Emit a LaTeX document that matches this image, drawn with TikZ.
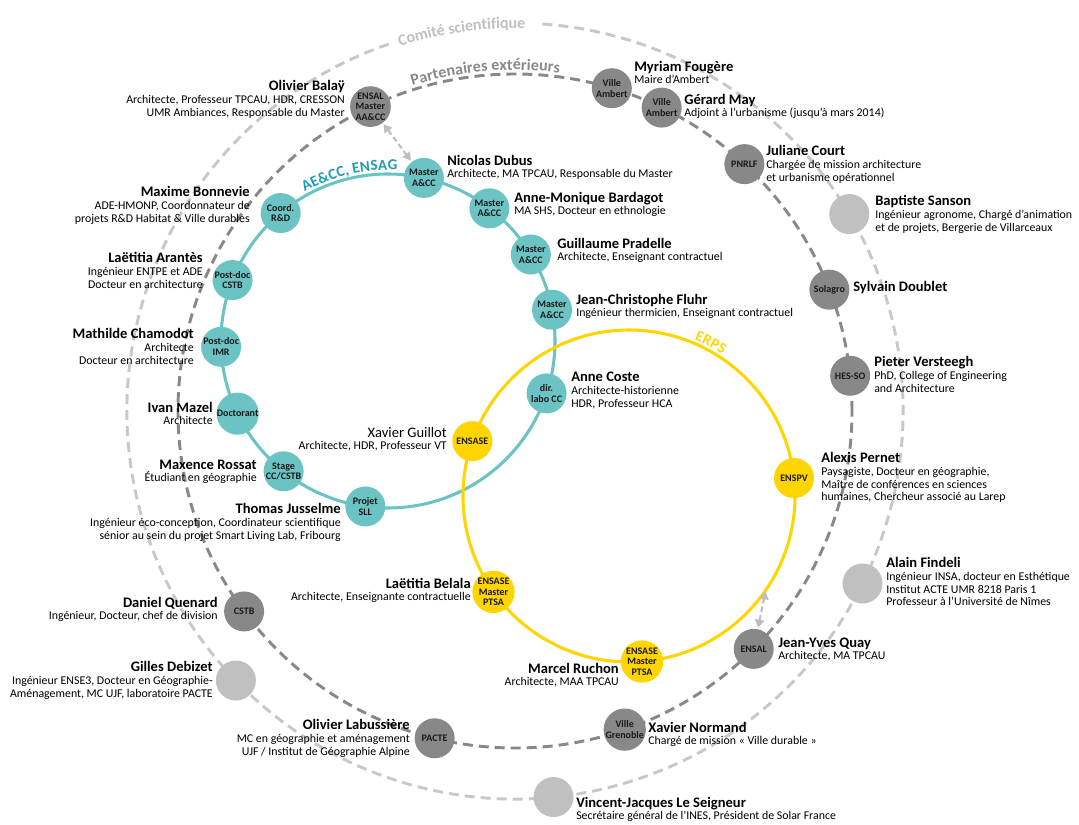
\documentclass[tikz,border=0pt]{standalone}
\usepackage{fontspec}
\setmainfont{Carlito}
\usetikzlibrary{arrows.meta,decorations.text}

\newcommand{\pnom}[1]{{\fontsize{10.9}{12}\selectfont\bfseries #1}}

\begin{document}
\begin{tikzpicture}[x=0.75pt, y=0.75pt,
    membre/.style={circle, minimum size=30pt, inner sep=0pt, align=center,
      font=\fontsize{7.5}{8}\selectfont\bfseries, text=black!90},
    aecc/.style={membre, fill=aeccteal},
    erps/.style={membre, fill=erpsjaune},
    parten/.style={membre, fill=grisfonce},
    comite/.style={membre, fill=grisclair},
    adroite/.style={anchor=base west, align=left, inner sep=0pt,
      font=\fontsize{8.9}{9.5}\selectfont},
    agauche/.style={anchor=base east, align=right, inner sep=0pt,
      font=\fontsize{8.9}{9.5}\selectfont},
    anneau/.style={line width=2.2pt, dash pattern=on 7.5pt off 4.5pt},
    fleche/.style={grisfleche, line width=1.6pt, dash pattern=on 4pt off 2.5pt,
      {Triangle[length=6pt,width=7pt]}-{Triangle[length=6pt,width=7pt]},
      shorten <=1pt, shorten >=1pt}]

    % Couleurs
    \definecolor{aeccteal}{RGB}{108,195,196}
    \definecolor{aecctexte}{RGB}{30,157,178}
    \definecolor{erpsjaune}{RGB}{255,213,0}
    \definecolor{grisfonce}{RGB}{136,136,136}
    \definecolor{grisclair}{RGB}{192,192,192}
    \definecolor{grisanneau}{RGB}{200,200,200}
    \definecolor{grisfleche}{RGB}{190,190,190}

    \useasboundingbox (0,0) rectangle (1079,825);

    % Centres des anneaux
    \coordinate (centre) at (515,414);
    \coordinate (cae) at (388,484);
    \coordinate (cerps) at (629,329);

    % Anneaux
    \draw[anneau, grisanneau] ([shift={(centre)}]109:388) arc[start angle=109, end angle=446, radius=388];
    \draw[anneau, grisfonce] (centre) circle[radius=337];
    \draw[aeccteal, line width=2.3pt] (cae) circle[radius=167];
    \draw[erpsjaune, line width=2.3pt] (cerps) circle[radius=166];

    % Titres des anneaux
    \path[decorate, decoration={text along path, text align=center, raise=-4pt,
        text={|\fontsize{12}{12}\selectfont\bfseries\color{grisclair}|Comité scientifique}}]
      ([shift={(centre)}]112:388) arc[start angle=112, end angle=84, radius=388];
    \path[decorate, decoration={text along path, text align=center, raise=3pt,
        text={|\fontsize{12}{12}\selectfont\bfseries\color{grisfonce}|Partenaires extérieurs}}]
      ([shift={(centre)}]108:337) arc[start angle=108, end angle=82, radius=337];
    \path[decorate, decoration={text along path, text align=center, raise=3pt,
        text={|\fontsize{11.4}{12}\selectfont\bfseries\color{aecctexte}|AE{\&}CC, ENSAG}}]
      ([shift={(cae)}]122:167) arc[start angle=122, end angle=84, radius=167];
    \path[decorate, decoration={text along path, text align=center, raise=3pt,
        text={|\fontsize{11.4}{12}\selectfont\bfseries\color{erpsjaune}|ERPS}}]
      ([shift={(cerps)}]72:166) arc[start angle=72, end angle=52, radius=166];

    % AE&CC, ENSAG
    \node[aecc] (dubus) at ([shift={(cae)}]77.6:167) {Master\\A\&CC};
    \node[aecc] (bardagot) at ([shift={(cae)}]52.6:167) {Master\\A\&CC};
    \node[aecc] (pradelle) at ([shift={(cae)}]31.2:167) {Master\\A\&CC};
    \node[aecc] (fluhr) at ([shift={(cae)}]10.8:167) {Master\\A\&CC};
    \node[aecc] (coste) at ([shift={(cae)}]-18.3:167) {dir.\\labo CC};
    \node[aecc] (jusselme) at ([shift={(cae)}]-97.8:167) {Projet\\SLL};
    \node[aecc] (rossat) at ([shift={(cae)}]231.3:167) {Stage\\CC/CSTB};
    \node[aecc] (mazel) at ([shift={(cae)}]205.8:167) {Doctorant};
    \node[aecc] (chamodot) at ([shift={(cae)}]182:167) {Post-doc\\IMR};
    \node[aecc] (arantes) at ([shift={(cae)}]158.6:167) {Post-doc\\CSTB};
    \node[aecc] (bonnevie) at ([shift={(cae)}]130:167) {Coord.\\R\&D};

    % ERPS
    \node[erps] (guillot) at ([shift={(cerps)}]160.7:166) {ENSASE};
    \node[erps] (pernet) at ([shift={(cerps)}]6.2:166) {ENSPV};
    \node[erps] (belala) at ([shift={(cerps)}]215.3:166) {ENSASE\\Master\\PTSA};
    \node[erps] (ruchon) at ([shift={(cerps)}]274.5:166) {ENSASE\\Master\\PTSA};

    % Partenaires extérieurs
    \node[parten] (balay) at ([shift={(centre)}]115.4:337) {ENSAL\\Master\\AA\&CC};
    \node[parten] (fougere) at ([shift={(centre)}]73.3:337) {Ville\\Ambert};
    \node[parten] (may) at ([shift={(centre)}]64.2:337) {Ville\\Ambert};
    \node[parten] (court) at ([shift={(centre)}]47.1:337) {PNRLF};
    \node[parten] (doublet) at ([shift={(centre)}]21.1:337) {Solagro};
    \node[parten] (versteegh) at ([shift={(centre)}]6:337) {HES-SO};
    \node[parten] (quay) at ([shift={(centre)}]-44.9:337) {ENSAL};
    \node[parten] (normand) at ([shift={(centre)}]-71:337) {Ville\\Grenoble};
    \node[parten] (labussiere) at ([shift={(centre)}]256.2:337) {PACTE};
    \node[parten] (quenard) at ([shift={(centre)}]216.5:337) {CSTB};

    % Comité scientifique
    \node[comite] (sanson) at ([shift={(centre)}]30.5:388) {};
    \node[comite] (findeli) at ([shift={(centre)}]-26.4:388) {};
    \node[comite] (seigneur) at ([shift={(centre)}]-84.3:388) {};
    \node[comite] (debizet) at ([shift={(centre)}]224:388) {};

    % Liens entre anneaux
    \coordinate (ancrage) at ([shift={(cerps)}]-34.5:166);
    \draw[fleche] (balay) -- (dubus);
    \draw[fleche] (quay) -- (ancrage);

    % Noms et fonctions (ancrés sur la dernière ligne)
    \node[adroite] (t-dubus) at (447,647.3) {\pnom{Nicolas Dubus}\\Architecte, MA TPCAU, Responsable du Master};
    \node[adroite] (t-bardagot) at (514,610.3) {\pnom{Anne-Monique Bardagot}\\MA SHS, Docteur en ethnologie};
    \node[adroite] (t-pradelle) at (557,564.3) {\pnom{Guillaume Pradelle}\\Architecte, Enseignant contractuel};
    \node[adroite] (t-fluhr) at (576,508.3) {\pnom{Jean-Christophe Fluhr}\\Ingénieur thermicien, Enseignant contractuel};
    \node[adroite] (t-coste) at (571,417.7) {\pnom{Anne Coste}\\Architecte-historienne\\HDR, Professeur HCA};
    \node[agauche] (t-jusselme) at (341,285.7) {\pnom{Thomas Jusselme}\\Ingénieur éco-conception, Coordinateur scientifique\\sénior au sein du projet Smart Living Lab, Fribourg};
    \node[agauche] (t-rossat) at (257,343.3) {\pnom{Maxence Rossat}\\Étudiant en géographie};
    \node[agauche] (t-mazel) at (213,400.3) {\pnom{Ivan Mazel}\\Architecte};
    \node[agauche] (t-chamodot) at (194,460.7) {\pnom{Mathilde Chamodot}\\Architecte\\Docteur en architecture};
    \node[agauche] (t-arantes) at (203,536.7) {\pnom{Laëtitia Arantès}\\Ingénieur ENTPE et ADE\\Docteur en architecture};
    \node[agauche] (t-bonnevie) at (250,602.7) {\pnom{Maxime Bonnevie}\\ADE-HMONP, Coordonnateur de\\projets R\&D Habitat \& Ville durables};

    \node[agauche] (t-guillot) at (447,375.3) {{\fontsize{10.9}{12}\selectfont Xavier Guillot}\\Architecte, HDR, Professeur VT};
    \node[adroite] (t-pernet) at (821,324) {\pnom{Alexis Pernet}\\Paysagiste, Docteur en géographie,\\Maître de conférences en sciences\\humaines, Chercheur associé au Larep};
    \node[agauche] (t-belala) at (471,224.3) {\pnom{Laëtitia Belala}\\Architecte, Enseignante contractuelle};
    \node[agauche] (t-ruchon) at (619,139.3) {\pnom{Marcel Ruchon}\\Architecte, MAA TPCAU};

    \node[agauche] (t-balay) at (345,708.7) {\pnom{Olivier Balaÿ}\\Architecte, Professeur TPCAU, HDR, CRESSON\\UMR Ambiances, Responsable du Master};
    \node[adroite] (t-fougere) at (634,741.3) {\pnom{Myriam Fougère}\\Maire d’Ambert};
    \node[adroite] (t-may) at (684,708.3) {\pnom{Gérard May}\\Adjoint à l’urbanisme (jusqu’à mars 2014)};
    \node[adroite] (t-court) at (766,643.7) {\pnom{Juliane Court}\\Chargée de mission architecture\\et urbanisme opérationnel};
    \node[adroite] (t-doublet) at (853,533) {\pnom{Sylvain Doublet}};
    \node[adroite] (t-versteegh) at (874,432.7) {\pnom{Pieter Versteegh}\\PhD, College of Engineering\\and Architecture};
    \node[adroite] (t-quay) at (778,165.3) {\pnom{Jean-Yves Quay}\\Architecte, MA TPCAU};
    \node[adroite] (t-normand) at (648,80.3) {\pnom{Xavier Normand}\\Chargé de mission « Ville durable »};
    \node[agauche] (t-labussiere) at (410,69.7) {\pnom{Olivier Labussière}\\MC en géographie et aménagement\\UJF / Institut de Géographie Alpine};
    \node[agauche] (t-quenard) at (218,205.3) {\pnom{Daniel Quenard}\\Ingénieur, Docteur, chef de division};

    \node[adroite] (t-sanson) at (875,593.7) {\pnom{Baptiste Sanson}\\Ingénieur agronome, Chargé d’animation\\et de projets, Bergerie de Villarceaux};
    \node[adroite] (t-findeli) at (886,219) {\pnom{Alain Findeli}\\Ingénieur INSA, docteur en Esthétique\\Institut ACTE UMR 8218 Paris 1\\Professeur à l’Université de Nîmes};
    \node[adroite] (t-seigneur) at (576,5.3) {\pnom{Vincent-Jacques Le Seigneur}\\Secrétaire général de l’INES, Président de Solar France};
    \node[agauche] (t-debizet) at (213,127.7) {\pnom{Gilles Debizet}\\Ingénieur ENSE3, Docteur en Géographie-\\Aménagement, MC UJF, laboratoire PACTE};

\end{tikzpicture}
\end{document}
